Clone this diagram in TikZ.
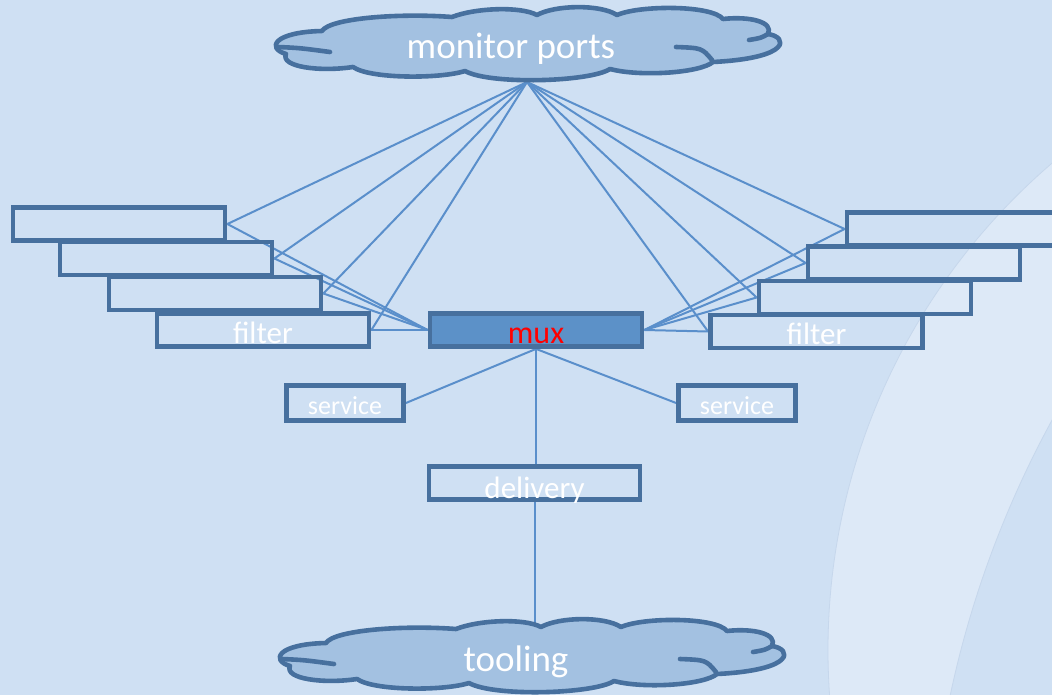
\documentclass[tikz,border=0pt]{standalone}
\usepackage{fontspec}
\setmainfont{Carlito}
\definecolor{bg}{HTML}{CFE0F3}
\definecolor{band}{HTML}{DDE9F7}
\definecolor{bandline}{HTML}{C6D7EC}
\definecolor{edge}{HTML}{47709E}
\definecolor{wire}{HTML}{5A8FCB}
\definecolor{muxfill}{HTML}{5C91C8}
\definecolor{cloudfill}{HTML}{A3C1E1}
\pgfdeclarelayer{back}
\pgfdeclarelayer{wires}
\pgfsetlayers{back,wires,main}
\tikzset{
  boxbase/.style={draw=edge, line width=4.8pt, inner sep=0pt, text=white},
  stackbox/.style={boxbase, minimum width=212pt, minimum height=33pt,
    font=\fontsize{31}{31}\selectfont, text height=26pt, text depth=0pt},
  muxbox/.style={stackbox, fill=muxfill, text=red,
    font=\fontsize{32}{32}\selectfont},
  servbox/.style={boxbase, minimum width=117pt, minimum height=35pt,
    font=\fontsize{26}{26}\selectfont, text height=22pt, text depth=0pt},
  delbox/.style={boxbase, minimum width=211pt, minimum height=33pt,
    font=\fontsize{31}{31}\selectfont, text height=30pt, text depth=0pt},
  cloudtext/.style={text=white, inner sep=0pt, anchor=base,
    font=\fontsize{37}{37}\selectfont},
  wire/.style={draw=wire, line width=2pt},
  cloudline/.style={draw=edge, line width=4.6pt, line join=round, line cap=round},
  cloudoutline/.pic={
    \path[cloudline, fill=cloudfill]
      (322,31) .. controls (330,18) and (400,13) .. (452,17)
      .. controls (475,8) and (520,6) .. (537,15)
      .. controls (555,5) and (600,4) .. (617,15)
      .. controls (640,5) and (712,5) .. (723,19)
      .. controls (750,16) and (774,22) .. (768,34)
      .. controls (788,37) and (792,58) .. (713,62)
      .. controls (700,73) and (640,77) .. (610,69)
      .. controls (590,82) and (490,85) .. (465,71)
      .. controls (440,79) and (370,79) .. (353,67)
      .. controls (320,72) and (280,67) .. (286,54)
      .. controls (266,48) and (274,32) .. cycle;
    \path[cloudline] (278,47) .. controls (300,48) .. (330,52);
    \path[cloudline] (676,47) .. controls (702,48) .. (712,60);
    \path[cloudline] (749,40) .. controls (761,38) .. (768,34);
  }
}
\begin{document}
\begin{tikzpicture}[x=1pt,y=-1pt]
\useasboundingbox (0,0) rectangle (1052,695);

% backdrop with the pale swoosh on the right
\begin{pgfonlayer}{back}
  \fill[bg] (0,0) rectangle (1052,695);
  \begin{scope}
    \clip (0,0) rectangle (1052,695);
    \fill[band] (1469,650) circle[radius=641];
    \draw[bandline, line width=0.8pt] (1469,650) circle[radius=641];
    \fill[bg] (1948,908) circle[radius=1020];
    \draw[bandline, line width=0.8pt] (1948,908) circle[radius=1020];
  \end{scope}
\end{pgfonlayer}

% left filter stack
\node[stackbox] (l1) at (119,224) {};
\node[stackbox] (l2) at (166,258.5) {};
\node[stackbox] (l3) at (215,293.5) {};
\node[stackbox] (l4) at (263,330) {filter};

% right filter stack
\node[stackbox] (r1) at (953,229) {};
\node[stackbox] (r2) at (914,263) {};
\node[stackbox] (r3) at (865,297.5) {};
\node[stackbox] (r4) at (816.5,331.5) {filter};

% centre column
\node[muxbox] (mux) at (536,330) {mux};
\node[servbox] (sl) at (345,403) {service};
\node[servbox] (sr) at (737,403) {service};
\node[delbox] (del) at (534.5,483) {delivery};

% clouds
\pic at (0,0) {cloudoutline};
\pic at (4,612) {cloudoutline};
\node[cloudtext] (monitor) at (511,59) {monitor ports};
\node[cloudtext] (tooling) at (516,671) {tooling};
\coordinate (mp) at (527,82);
\coordinate (tl) at (534.5,624);

% connectors
\begin{pgfonlayer}{wires}
  \foreach \n in {l1,l2,l3,l4} {
    \draw[wire] (mp) -- (\n.east);
    \draw[wire] (mux.west) -- (\n.east);
  }
  \foreach \n in {r1,r2,r3,r4} {
    \draw[wire] (mp) -- (\n.west);
    \draw[wire] (mux.east) -- (\n.west);
  }
  \draw[wire] (mux.south) -- (sl.east);
  \draw[wire] (mux.south) -- (sr.west);
  \draw[wire] (mux.south) -- (mux.south |- del.north);
  \draw[wire] (del.south) -- (tl);
\end{pgfonlayer}
\end{tikzpicture}
\end{document}
